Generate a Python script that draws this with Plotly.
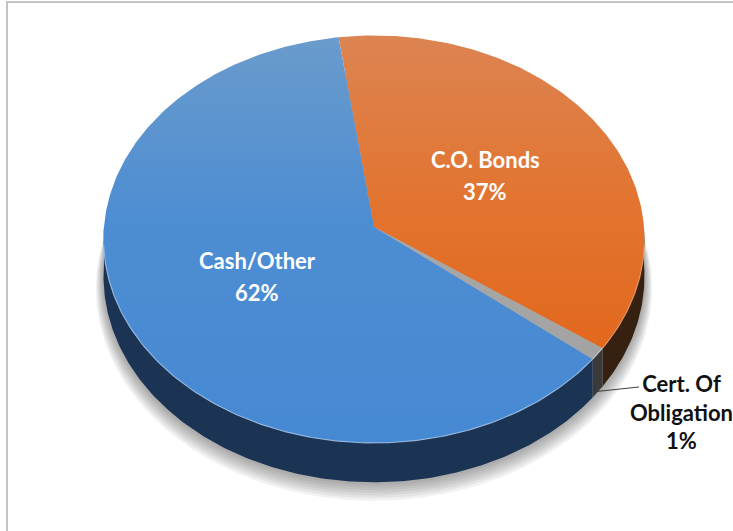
import numpy as np
import plotly.graph_objects as go

# ---- data -------------------------------------------------------------
categories = ["C.O. Bonds", "Cert. Of Obligation", "Cash/Other"]
label_lines = [["C.O. Bonds"], ["Cert. Of", "Obligation"], ["Cash/Other"]]
values = [37, 1, 62]

# ---- styling ----------------------------------------------------------
top_scales = [
    [[0, "#e2681d"], [0.5, "#e27532"], [1, "#dc8452"]],
    [[0, "#a3a3a3"], [1, "#a8a8a8"]],
    [[0, "#4689d3"], [0.55, "#4d8dd2"], [1, "#6a9bcc"]],
]
side_colors = ["#36200f", "#3a3a3a", "#1b3454"]
rim_colors = ["#f0a070", "#d0d0d0", "#a9c8ec"]

W, H = 733, 531
CX, CY = 374.0, 227.0      # pie vertex (pixels from top-left)
RX, RY = 270.0, 203.0      # radii of the tilted top face
PERSP = 0.06               # mild perspective (near edge drawn larger)
DEPTH = 37.0               # thickness of the pie
START = -8.0               # angle of first slice, clockwise from 12 o'clock


def proj(theta_deg, r=1.0, drop=0.0):
    """Project a point of the pie disc onto plot coordinates (y up)."""
    t = np.radians(theta_deg)
    u = r * np.sin(t)
    v = -r * np.cos(t)
    s = 1.0 / (1.0 - PERSP * v)
    x = CX + RX * u * s
    y = CY + (RY * v + drop) * s
    return x, H - y


def arc(a0, a1, r=1.0, drop=0.0, n=None):
    n = n or max(4, int(abs(a1 - a0) * 1.5))
    th = np.linspace(a0, a1, n)
    return proj(th, r, drop)


total = float(sum(values))
spans = [v / total * 360.0 for v in values]
bounds = np.concatenate([[START], START + np.cumsum(spans)])

fig = go.Figure()

# soft drop shadow under the pie
for k in range(7, 0, -1):
    sx, sy = arc(0, 360, r=1.0 + 0.004 * k, drop=DEPTH + 1.6 * k, n=400)
    fig.add_trace(go.Scatter(
        x=sx, y=sy, mode="lines", fill="toself",
        fillcolor="rgba(60,60,60,0.07)", line=dict(width=0),
        hoverinfo="skip", showlegend=False))

# side walls (front half only)
for i in range(len(values)):
    a0, a1 = bounds[i], bounds[i + 1]
    lo, hi = max(a0, 90.0), min(a1, 270.0)
    if hi <= lo:
        continue
    tx, ty = arc(lo, hi)
    bx, by = arc(hi, lo, drop=DEPTH)
    fig.add_trace(go.Scatter(
        x=np.concatenate([tx, bx]), y=np.concatenate([ty, by]),
        mode="lines", fill="toself", fillcolor=side_colors[i],
        line=dict(width=0), hoverinfo="skip", showlegend=False))

# top faces
for i in range(len(values)):
    a0, a1 = bounds[i], bounds[i + 1]
    ax, ay = arc(a0, a1)
    cx0, cy0 = proj(0.0, r=0.0)
    fig.add_trace(go.Scatter(
        x=np.concatenate([[cx0], ax, [cx0]]),
        y=np.concatenate([[cy0], ay, [cy0]]),
        mode="lines", fill="toself",
        fillgradient=dict(type="vertical", colorscale=top_scales[i]),
        line=dict(width=0), hoverinfo="skip", showlegend=False,
        name=categories[i]))

# light rim along the front edge of the top face
for i in range(len(values)):
    a0, a1 = bounds[i], bounds[i + 1]
    lo, hi = max(a0, 95.0), min(a1, 265.0)
    if hi <= lo:
        continue
    rx_, ry_ = arc(lo, hi)
    fig.add_trace(go.Scatter(
        x=rx_, y=ry_, mode="lines",
        line=dict(color=rim_colors[i], width=1.2), opacity=0.75,
        hoverinfo="skip", showlegend=False))

# labels
FONT = "Lato, 'Open Sans', Arial, sans-serif"
pct = [f"{round(v / total * 100):d}%" for v in values]
for i in range(len(values)):
    mid = (bounds[i] + bounds[i + 1]) / 2.0
    if values[i] / total >= 0.05:
        lx, ly = proj(mid, r=0.49)
        fig.add_annotation(x=lx, y=ly + 16, text="<b>%s</b>" % "<br>".join(label_lines[i]),
                           showarrow=False, font=dict(family=FONT, size=22, color="white"),
                           xanchor="center", yanchor="middle")
        fig.add_annotation(x=lx, y=ly - 16, text="<b>%s</b>" % pct[i],
                           showarrow=False, font=dict(family=FONT, size=22, color="white"),
                           xanchor="center", yanchor="middle")
    else:
        px0, py0 = proj(mid, r=1.0, drop=DEPTH * 0.98)
        tx0, ty0 = 681.0, H - 412.0
        fig.add_trace(go.Scatter(
            x=[px0, tx0 - 48, tx0 - 42], y=[py0, ty0 + 25, ty0 + 25],
            mode="lines", line=dict(color="#3c3c3c", width=1),
            hoverinfo="skip", showlegend=False))
        fig.add_annotation(x=tx0, y=ty0,
                           text="<b>%s</b>" % "<br>".join(label_lines[i] + [pct[i]]),
                           showarrow=False, font=dict(family=FONT, size=22, color="#111111"),
                           xanchor="center", yanchor="middle", align="center")

# chart-area frame
fig.add_shape(type="rect", x0=7, y0=-20, x1=W + 20, y1=H - 2,
              line=dict(color="#c4c4c4", width=2), layer="below")

fig.update_layout(
    width=W, height=H,
    margin=dict(l=0, r=0, t=0, b=0),
    paper_bgcolor="white", plot_bgcolor="white",
    xaxis=dict(range=[0, W], visible=False, fixedrange=True),
    yaxis=dict(range=[0, H], visible=False, fixedrange=True),
    showlegend=False,
)

fig.write_html("out.html")
